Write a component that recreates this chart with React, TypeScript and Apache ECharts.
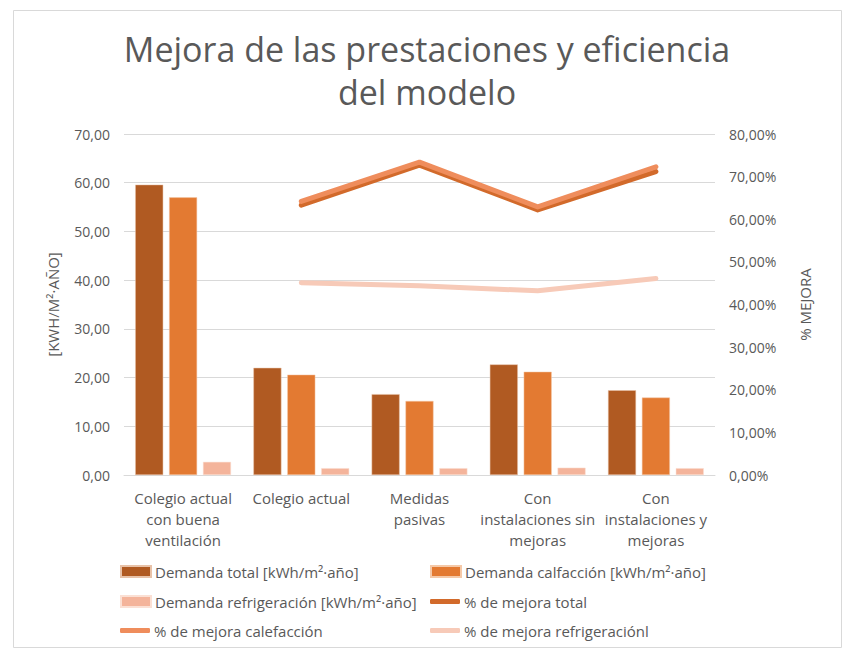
import React, { useEffect, useRef } from "react";
import * as echarts from "echarts";

const categories = [
  "Colegio actual\ncon buena\nventilación",
  "Colegio actual",
  "Medidas\npasivas",
  "Con\ninstalaciones sin\nmejoras",
  "Con\ninstalaciones y\nmejoras",
];
const demandaTotal = [59.6, 22.0, 16.6, 22.7, 17.4];
const demandaCalef = [57.0, 20.6, 15.2, 21.2, 15.9];
const demandaRefrig = [2.7, 1.4, 1.4, 1.5, 1.4];
const mejoraTotal = [null, 63.3, 72.7, 62.2, 71.2];
const mejoraCalef = [null, 64.2, 73.4, 62.9, 72.3];
const mejoraRefrig = [null, 45.1, 44.4, 43.2, 46.1];

const seriesNames = [
  "Demanda total [kWh/m²·año]",
  "Demanda calfacción [kWh/m²·año]",
  "Demanda refrigeración [kWh/m²·año]",
  "% de mejora total",
  "% de mejora calefacción",
  "% de mejora refrigeraciónl",
];

const C_TOTAL = "#B05A22";
const C_CALEF = "#E37A32";
const C_REFRIG = "#F4B49B";
const L_TOTAL = "#D26A2B";
const L_CALEF = "#EF8D5C";
const L_REFRIG = "#F7CAB8";
const TXT = "#595959";
const FONT = "'Open Sans', Lato, sans-serif";

export default function App() {
  const ref = useRef<HTMLDivElement>(null);
  useEffect(() => {
    if (!ref.current) return;
    const chart = echarts.init(ref.current, undefined, { renderer: "svg" });
    const legendPos = [
      { left: 120, top: 564 },
      { left: 430, top: 564 },
      { left: 120, top: 594 },
      { left: 430, top: 594 },
      { left: 120, top: 623 },
      { left: 430, top: 623 },
    ];
    const legends = seriesNames.map((n, i) => ({
      data: [n],
      left: legendPos[i].left,
      top: legendPos[i].top,
      icon: i < 3 ? "rect" : "roundRect",
      itemWidth: 30,
      itemHeight: i < 3 ? 11 : 5,
      itemGap: 0,
      padding: 0,
      textStyle: { color: TXT, fontSize: 15, fontFamily: FONT, padding: [0, 0, 0, -1] },
    }));
    chart.setOption({
      animation: false,
      textStyle: { fontFamily: FONT },
      graphic: [
        {
          type: "rect",
          shape: { x: 13.5, y: 10.5, width: 828, height: 637 },
          style: { fill: "none", stroke: "#d9d9d9", lineWidth: 1 },
          silent: true,
        },
      ],
      title: {
        text: "Mejora de las prestaciones y eficiencia\ndel modelo",
        left: "center",
        top: 22,
        textStyle: {
          color: TXT,
          fontSize: 34,
          fontWeight: "normal",
          fontFamily: FONT,
          lineHeight: 43,
        },
      },
      legend: legends,
      grid: { left: 124, right: 139, top: 134, bottom: 182 },
      xAxis: {
        type: "category",
        data: categories,
        axisLine: { lineStyle: { color: "#d9d9d9" } },
        axisTick: { show: false },
        axisLabel: {
          color: TXT,
          fontSize: 15,
          fontFamily: FONT,
          lineHeight: 21,
          margin: 12,
          interval: 0,
        },
      },
      yAxis: [
        {
          type: "value",
          min: 0,
          max: 70,
          interval: 10,
          name: "[KWH/M²·AÑO]",
          nameLocation: "middle",
          nameRotate: 90,
          nameGap: 64,
          nameTextStyle: { color: TXT, fontSize: 15, fontFamily: FONT },
          axisLabel: {
            color: TXT,
            fontSize: 14,
            fontFamily: FONT,
            margin: 14,
            formatter: (v: number) => v.toFixed(2).replace(".", ","),
          },
          splitLine: { lineStyle: { color: "#d9d9d9" } },
          axisLine: { show: false },
          axisTick: { show: false },
        },
        {
          type: "value",
          min: 0,
          max: 80,
          interval: 10,
          name: "% MEJORA",
          nameLocation: "middle",
          nameRotate: 90,
          nameGap: 82,
          nameTextStyle: { color: TXT, fontSize: 15, fontFamily: FONT },
          axisLabel: {
            color: TXT,
            fontSize: 14,
            fontFamily: FONT,
            margin: 14,
            formatter: (v: number) => v.toFixed(2).replace(".", ",") + "%",
          },
          splitLine: { show: false },
          axisLine: { show: false },
          axisTick: { show: false },
        },
      ],
      series: [
        {
          name: seriesNames[0],
          type: "bar",
          data: demandaTotal,
          barWidth: 28,
          barGap: "21%",
          itemStyle: { color: C_TOTAL, borderColor: "#e8c2a8", borderWidth: 0.5 },
        },
        {
          name: seriesNames[1],
          type: "bar",
          data: demandaCalef,
          barWidth: 28,
          barGap: "21%",
          itemStyle: { color: C_CALEF, borderColor: "#f5c9a8", borderWidth: 0.5 },
        },
        {
          name: seriesNames[2],
          type: "bar",
          data: demandaRefrig,
          barWidth: 28,
          barGap: "21%",
          itemStyle: { color: C_REFRIG, borderColor: "#fbe0d4", borderWidth: 0.5 },
        },
        {
          name: seriesNames[3],
          type: "line",
          yAxisIndex: 1,
          data: mejoraTotal,
          symbol: "none",
          lineStyle: { color: L_TOTAL, width: 5, cap: "round", join: "round" },
          itemStyle: { color: L_TOTAL },
        },
        {
          name: seriesNames[4],
          type: "line",
          yAxisIndex: 1,
          data: mejoraCalef,
          symbol: "none",
          lineStyle: { color: L_CALEF, width: 5, cap: "round", join: "round" },
          itemStyle: { color: L_CALEF },
        },
        {
          name: seriesNames[5],
          type: "line",
          yAxisIndex: 1,
          data: mejoraRefrig,
          symbol: "none",
          lineStyle: { color: L_REFRIG, width: 5, cap: "round", join: "round" },
          itemStyle: { color: L_REFRIG },
        },
      ],
    });
    return () => chart.dispose();
  }, []);
  return (
    <div
      ref={ref}
      style={{ position: "fixed", left: 0, top: 0, width: 854, height: 657, background: "#fff" }}
    />
  );
}
